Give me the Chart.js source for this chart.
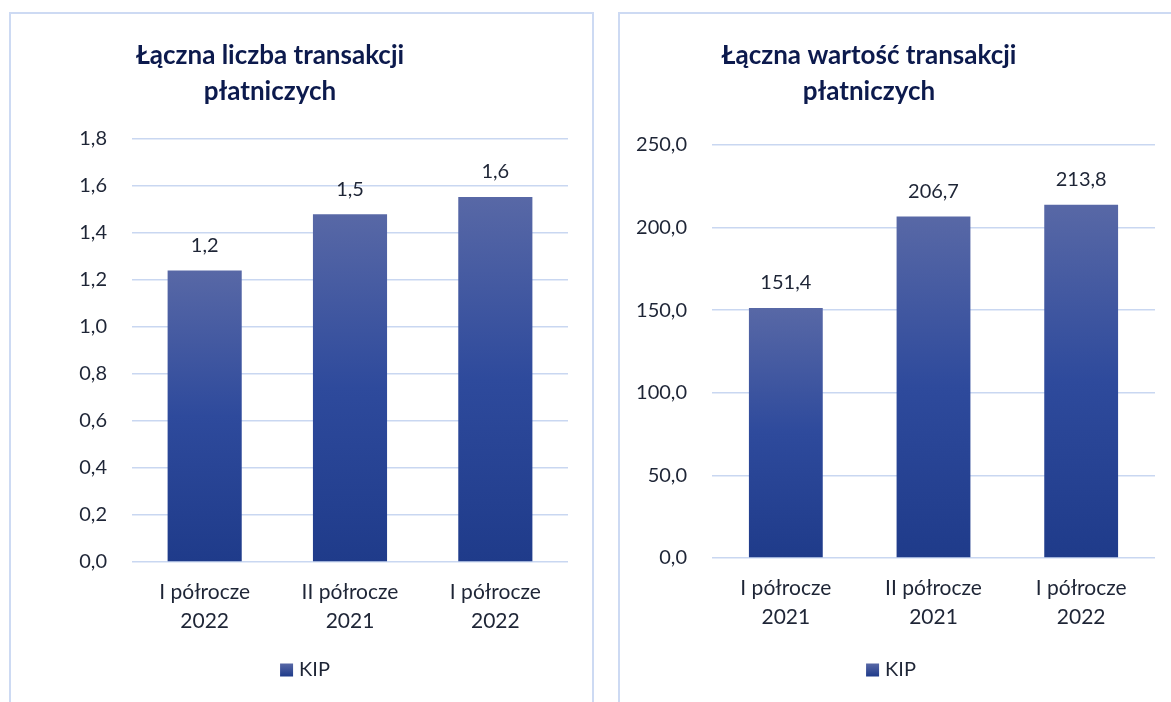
<!DOCTYPE html>
<html><head><meta charset="utf-8">
<script src="https://cdn.jsdelivr.net/npm/chart.js@4.4.0/dist/chart.umd.min.js"></script>
<style>
html,body{margin:0;padding:0;width:1171px;height:702px;overflow:hidden;background:#fff;}
body{position:relative;}
.panel{position:absolute;border:2px solid #cddaf3;box-sizing:border-box;}
#p1{left:9px;top:12px;width:585px;height:720px;}
#p2{left:618px;top:12px;width:600px;height:720px;}
.cv{position:absolute;top:0;height:702px;}
#w1{left:-28px;width:620px;}
#w2{left:583px;width:588px;}
</style></head><body>
<div class="panel" id="p1"></div><div class="panel" id="p2"></div>
<div class="cv" id="w1"><canvas id="c1"></canvas></div>
<div class="cv" id="w2"><canvas id="c2"></canvas></div>
<script>
const seriesName = 'KIP';
const titleCount = ['Łączna liczba transakcji', 'płatniczych'];
const titleValue = ['Łączna wartość transakcji', 'płatniczych'];
const categoriesCount = [['I półrocze', '2022'], ['II półrocze', '2021'], ['I półrocze', '2022']];
const categoriesValue = [['I półrocze', '2021'], ['II półrocze', '2021'], ['I półrocze', '2022']];
const valuesCount = [1.24, 1.48, 1.553];
const valuesValue = [151.4, 206.7, 213.8];
const yTicksCount = [0, 0.2, 0.4, 0.6, 0.8, 1.0, 1.2, 1.4, 1.6, 1.8];
const yTicksValue = [0, 50, 100, 150, 200, 250];

const TEXT = '#1e2536';
const FONT = 'Lato, "Open Sans", sans-serif';

function fmt(v) { return v.toFixed(1).replace('.', ','); }

function barGradient(c) {
  const chart = c.chart;
  if (!chart.chartArea || c.type !== 'data') return '#2f4a9a';
  const y = chart.scales.y;
  const top = y.getPixelForValue(c.raw), bottom = y.getPixelForValue(0);
  const g = chart.ctx.createLinearGradient(0, top, 0, bottom);
  g.addColorStop(0, '#5868a6');
  g.addColorStop(0.5, '#2e4a9c');
  g.addColorStop(1, '#1f3b8a');
  return g;
}

const valueLabels = {
  id: 'valueLabels',
  afterDatasetsDraw(chart, args, opts) {
    const ctx = chart.ctx;
    ctx.save();
    ctx.font = opts.font; ctx.fillStyle = opts.color;
    ctx.textAlign = 'center'; ctx.textBaseline = 'middle';
    chart.getDatasetMeta(0).data.forEach((bar, i) => {
      ctx.fillText(fmt(chart.data.datasets[0].data[i]), bar.x, bar.y - opts.offset);
    });
    ctx.restore();
  }
};

const swatchLegend = {
  id: 'swatchLegend',
  afterDraw(chart, args, opts) {
    const ctx = chart.ctx;
    const label = chart.data.datasets[0].label;
    ctx.save();
    ctx.font = opts.font;
    const tw = ctx.measureText(label).width;
    const total = opts.box + opts.gap + tw;
    const x0 = opts.centerX - total / 2;
    const y0 = opts.y - opts.box / 2;
    const g = ctx.createLinearGradient(0, y0, 0, y0 + opts.box);
    g.addColorStop(0, '#5868a6'); g.addColorStop(1, '#1f3b8a');
    ctx.fillStyle = g;
    ctx.fillRect(x0, y0, opts.box, opts.box);
    ctx.fillStyle = opts.color; ctx.textAlign = 'left'; ctx.textBaseline = 'middle';
    ctx.fillText(label, x0 + opts.box + opts.gap, opts.y);
    ctx.restore();
  }
};

function makeChart(id, title, cats, vals, yTicks, cfg) {
  return new Chart(document.getElementById(id), {
    type: 'bar',
    data: {
      labels: cats,
      datasets: [{ label: seriesName, data: vals, backgroundColor: barGradient,
        barPercentage: cfg.barPct, categoryPercentage: 1 }]
    },
    options: {
      responsive: true, maintainAspectRatio: false, animation: false,
      layout: { padding: { left: 0, right: cfg.padRight, top: 0, bottom: cfg.padBottom } },
      plugins: {
        legend: { display: false },
        tooltip: { enabled: false },
        title: { display: true, text: title, color: '#0c1a4d',
          font: { family: FONT, size: 26, weight: 'bold', lineHeight: 1.35 },
          padding: { top: 38.5, bottom: cfg.titleBottom } },
        valueLabels: { font: '20px ' + FONT, color: TEXT, offset: 25 },
        swatchLegend: { font: '20px ' + FONT, color: TEXT, box: 13, gap: 6, centerX: cfg.legendX, y: 670 }
      },
      scales: {
        x: {
          grid: { display: false, drawTicks: false }, border: { display: false },
          ticks: { color: TEXT, font: { family: FONT, size: 21, lineHeight: 1.38 }, padding: 16, maxRotation: 0, autoSkip: false },
          afterFit(s) { s.height = 73; }
        },
        y: {
          min: yTicks[0], max: yTicks[yTicks.length - 1],
          afterBuildTicks(s) { s.ticks = yTicks.map(v => ({ value: v })); },
          grid: { color: '#c9d7f1', lineWidth: 1.6, drawTicks: false },
          border: { display: false },
          ticks: { color: TEXT, font: { family: FONT, size: 20 }, padding: 25, callback: v => fmt(v) },
          afterFit(s) { s.width = cfg.yWidth; }
        }
      }
    },
    plugins: [valueLabels, swatchLegend]
  });
}

makeChart('c1', titleCount, categoriesCount, valuesCount, yTicksCount,
  { barPct: 0.51, padRight: 24, padBottom: 67, titleBottom: 30.3, yWidth: 160, legendX: 333 });
makeChart('c2', titleValue, categoriesValue, valuesValue, yTicksValue,
  { barPct: 0.5, padRight: 16, padBottom: 71, titleBottom: 36.3, yWidth: 129, legendX: 308 });
</script>
</body></html>
